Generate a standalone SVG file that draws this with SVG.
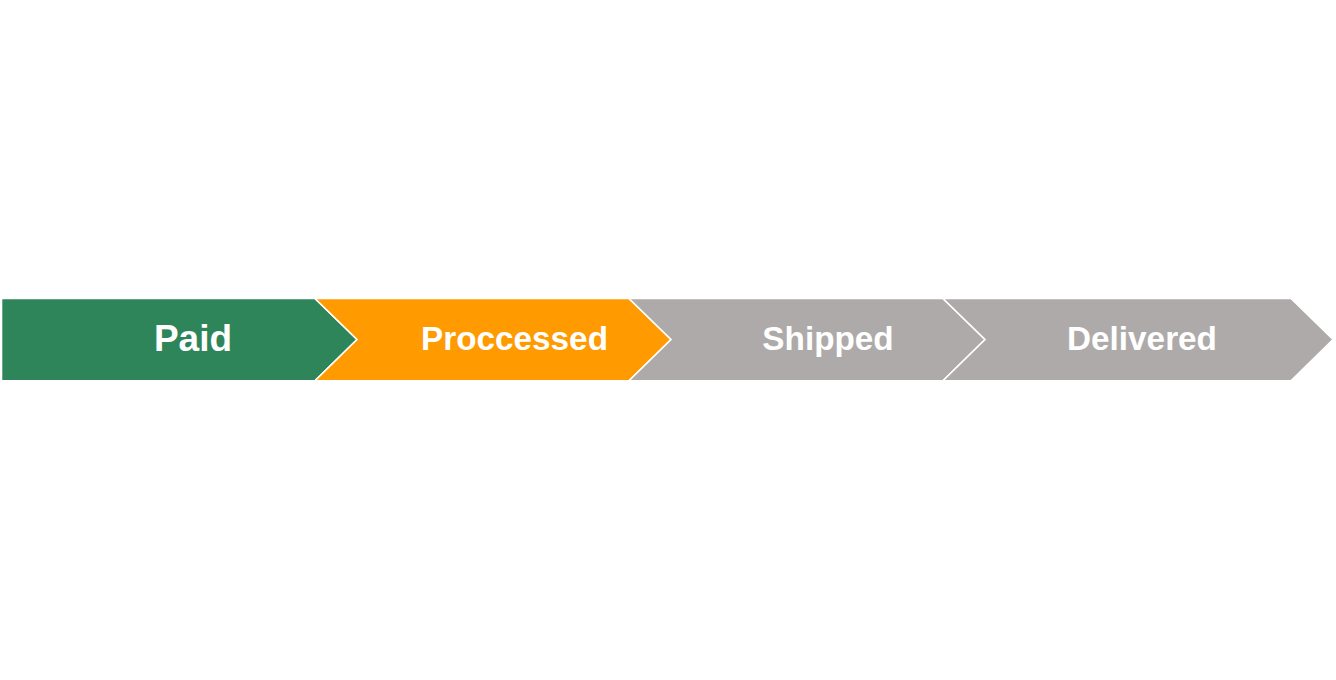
<svg xmlns="http://www.w3.org/2000/svg" width="1336" height="680" viewBox="0 0 1336 680">
<style>
.s{stroke:#fff;stroke-width:1.6;stroke-linejoin:miter}
.t{font-family:"Liberation Sans",Arial,sans-serif;font-weight:bold;fill:#fff;text-anchor:middle;font-size:33.3px}
</style>
<rect width="1336" height="680" fill="#fff"/>
<g id="paid">
<path class="s" fill="#2E855A" d="M1.5,298.5 H315 L357,339.5 L315,380.8 H1.5 Z"/>
<text class="t" x="193" y="351" style="font-size:37px">Paid</text>
</g>
<g id="processed">
<path class="s" fill="#FF9A00" d="M315,298.5 H629 L671,339.5 L629,380.8 H315 L357,339.5 Z"/>
<text class="t" x="514.5" y="350">Proccessed</text>
</g>
<g id="shipped">
<path class="s" fill="#AEAAA9" d="M629,298.5 H943 L985,339.5 L943,380.8 H629 L671,339.5 Z"/>
<text class="t" x="828" y="350">Shipped</text>
</g>
<g id="delivered">
<path class="s" fill="#AEAAA9" d="M943,298.5 H1291 L1333,339.5 L1291,380.8 H943 L985,339.5 Z"/>
<text class="t" x="1142" y="350">Delivered</text>
</g>
<g id="connectors"></g>
</svg>
